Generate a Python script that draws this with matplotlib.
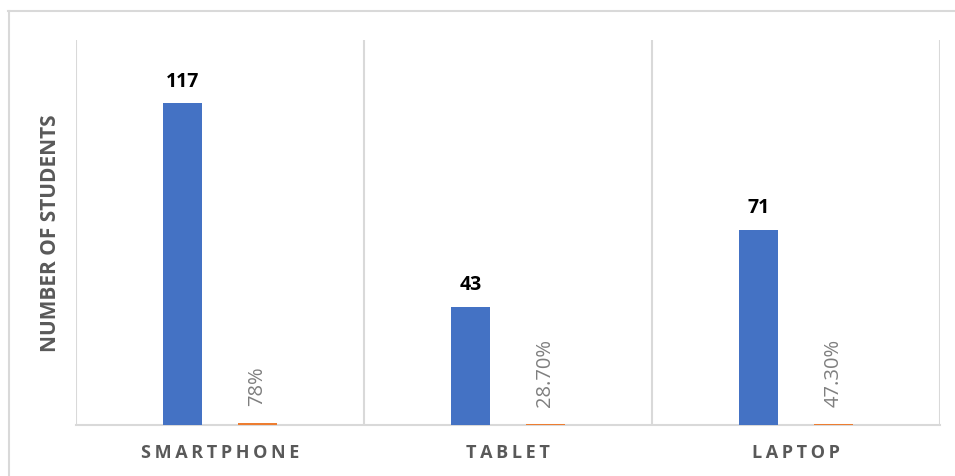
import matplotlib
matplotlib.use("Agg")
import matplotlib.pyplot as plt
from matplotlib.lines import Line2D

plt.rcParams['font.family'] = ['Open Sans', 'DejaVu Sans']

categories = ["SMARTPHONE", "TABLET", "LAPTOP"]
students = [117, 43, 71]
share = [0.78, 0.287, 0.473]
share_labels = ["78%", "28.70%", "47.30%"]

blue = "#4472C4"
orange = "#ED7D31"
grid_c = "#D9D9D9"
text_gray = "#595959"

fig = plt.figure(figsize=(9.55, 4.77), dpi=100)
ax = fig.add_axes([76 / 955, 51 / 477, 864 / 955, 385 / 477])

x = list(range(len(categories)))
off = 0.129
w = 0.136
ax.bar([i - off for i in x], students, width=w, color=blue, zorder=3)
ax.bar([i + off for i in x], share, width=w, color=orange, zorder=3)

ax.set_xlim(-0.5, len(categories) - 0.5)
ax.set_ylim(0, 140)

# category separators
for b in [i - 0.5 for i in range(len(categories) + 1)]:
    ax.axvline(b, color=grid_c, lw=1.5, zorder=1)

for s in ax.spines.values():
    s.set_visible(False)
ax.spines['bottom'].set_visible(True)
ax.spines['bottom'].set_color(grid_c)
ax.spines['bottom'].set_linewidth(1.5)

ax.set_yticks([])
ax.set_xticks(x)
ax.set_xticklabels(["\u2009".join(c) for c in categories], fontsize=13,
                   fontweight='bold', color=text_gray)
ax.tick_params(axis='x', length=0, pad=13)

ax.set_ylabel("NUMBER OF STUDENTS", fontsize=15, fontweight='bold',
              color=text_gray, labelpad=11)

for i, v in enumerate(students):
    ax.annotate(str(v), (i - off, v), xytext=(0, 9), textcoords='offset points',
                ha='center', va='bottom', fontsize=14, fontweight='bold',
                color='black')

for i, (v, lab) in enumerate(zip(share, share_labels)):
    ax.annotate(lab, (i + off, v), xytext=(0, 13), textcoords='offset points',
                ha='center', va='bottom', rotation=90, fontsize=14.5,
                color="#7F7F7F")

# chart frame (top and left edges)
fig.add_artist(Line2D([8 / 955, 1], [1 - 12 / 477, 1 - 12 / 477],
                      transform=fig.transFigure, color=grid_c, lw=1.5))
fig.add_artist(Line2D([9 / 955, 9 / 955], [0, 1 - 12 / 477],
                      transform=fig.transFigure, color=grid_c, lw=1.5))

fig.savefig("out.png", dpi=100)
